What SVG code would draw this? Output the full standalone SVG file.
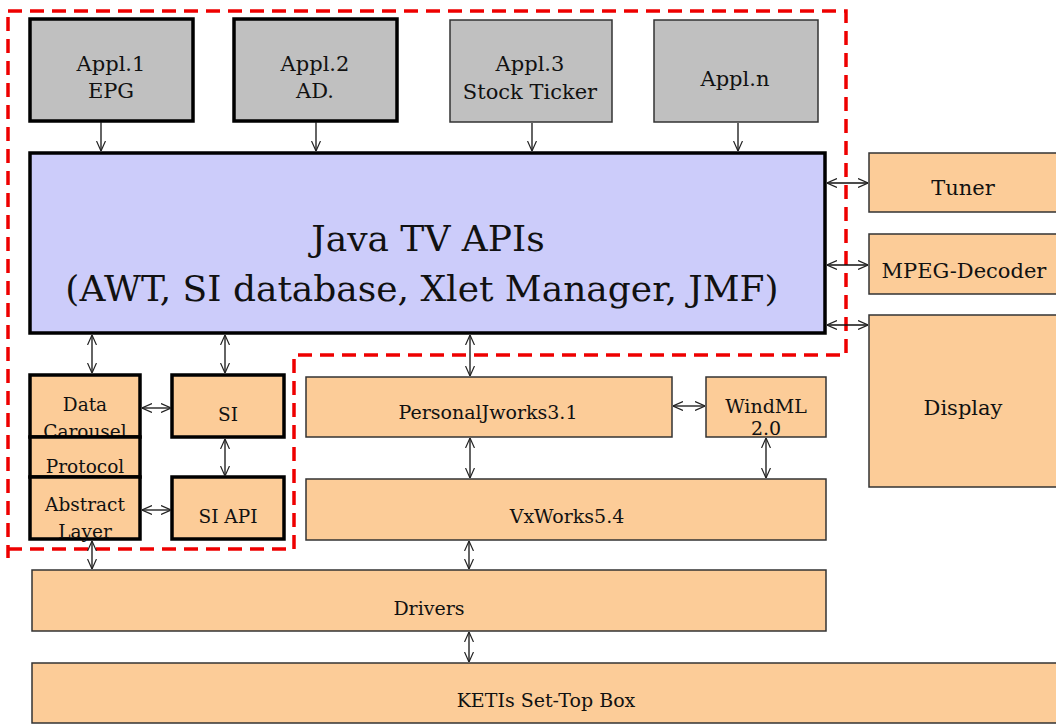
<svg xmlns="http://www.w3.org/2000/svg" width="1056" height="724" viewBox="0 0 1056 724">
<style>
text{font-family:"DejaVu Serif","Liberation Serif",serif;fill:#111;text-anchor:middle}
.gk{fill:#c0c0c0;stroke:#000;stroke-width:3.5}
.gt{fill:#c0c0c0;stroke:#333;stroke-width:1.5}
.ok{fill:#fccc98;stroke:#000;stroke-width:3.5}
.ot{fill:#fccc98;stroke:#333;stroke-width:1.5}
.s{font-size:21px}
.m{font-size:18.5px}
.n{font-size:19px}
.c line{stroke:#111;stroke-width:1.3;fill:none}
</style>
<defs>
<marker id="ah" viewBox="0 0 10 10" refX="10" refY="5" markerWidth="10" markerHeight="10" markerUnits="userSpaceOnUse" orient="auto-start-reverse">
<polyline points="0,0.5 10,5 0,9.5" fill="none" stroke="#222" stroke-width="1.2"/>
</marker>
</defs>
<rect width="1056" height="724" fill="#fff"/>
<polygon points="8,11 846,11 846,355 294,355 294,549 8,549 8,558" fill="none" stroke="#e00" stroke-width="3.5" stroke-dasharray="14,8"/>
<g id="appl1"><rect class="gk" x="30" y="19" width="163" height="102"/><text class="s" x="111" y="71">Appl.1</text><text class="s" x="111" y="98">EPG</text></g>
<g id="appl2"><rect class="gk" x="234" y="19" width="163" height="102"/><text class="s" x="315" y="71">Appl.2</text><text class="s" x="315" y="98">AD.</text></g>
<g id="appl3"><rect class="gt" x="450" y="20" width="162" height="102"/><text class="s" x="530" y="71">Appl.3</text><text class="s" x="530" y="99">Stock Ticker</text></g>
<g id="appln"><rect class="gt" x="654" y="20" width="164" height="102"/><text class="s" x="735" y="86">Appl.n</text></g>
<g id="javatv"><rect x="30" y="153" width="795" height="180" fill="#ccccfa" stroke="#000" stroke-width="3.5"/><text x="428" y="251" font-size="36">Java TV APIs</text><text x="422" y="301" font-size="36">(AWT, SI database, Xlet Manager, JMF)</text></g>
<g id="tuner"><rect class="ot" x="869" y="153" width="200" height="59"/><text class="s" x="963" y="195">Tuner</text></g>
<g id="mpeg"><rect class="ot" x="869" y="234" width="200" height="60"/><text class="s" x="964" y="278">MPEG-Decoder</text></g>
<g id="display"><rect class="ot" x="869" y="315" width="200" height="172"/><text class="s" x="963" y="415">Display</text></g>
<g id="datacarousel"><rect class="ok" x="30" y="375" width="110" height="62"/><text class="m" x="85" y="411">Data</text><text class="m" x="85" y="438">Carousel</text></g>
<g id="protocol"><rect class="ok" x="30" y="437" width="110" height="40"/><text class="m" x="85" y="473">Protocol</text></g>
<g id="abstract"><rect class="ok" x="30" y="477" width="110" height="62"/><text class="m" x="85" y="511">Abstract</text><text class="m" x="85" y="538">Layer</text></g>
<g id="si"><rect class="ok" x="172" y="375" width="112" height="62"/><text class="m" x="228" y="421">SI</text></g>
<g id="siapi"><rect class="ok" x="172" y="477" width="112" height="62"/><text class="m" x="228" y="523">SI API</text></g>
<g id="pjworks"><rect class="ot" x="306" y="377" width="366" height="60"/><text class="n" x="488" y="419">PersonalJworks3.1</text></g>
<g id="windml"><rect class="ot" x="706" y="377" width="120" height="60"/><text class="n" x="766" y="413">WindML</text><text class="n" x="766" y="435">2.0</text></g>
<g id="vxworks"><rect class="ot" x="306" y="479" width="520" height="61"/><text class="n" x="567" y="523">VxWorks5.4</text></g>
<g id="drivers"><rect class="ot" x="32" y="570" width="794" height="61"/><text class="n" x="429" y="615">Drivers</text></g>
<g id="keti"><rect class="ot" x="32" y="663" width="1030" height="60"/><text class="n" x="546" y="707">KETIs Set-Top Box</text></g>
<g class="c" id="connectors">
<line x1="101" y1="122" x2="101" y2="151" marker-end="url(#ah)"/>
<line x1="316" y1="122" x2="316" y2="151" marker-end="url(#ah)"/>
<line x1="532" y1="123" x2="532" y2="151" marker-end="url(#ah)"/>
<line x1="738" y1="123" x2="738" y2="151" marker-end="url(#ah)"/>
<line x1="827" y1="183" x2="868" y2="183" marker-start="url(#ah)" marker-end="url(#ah)"/>
<line x1="827" y1="265" x2="868" y2="265" marker-start="url(#ah)" marker-end="url(#ah)"/>
<line x1="827" y1="325" x2="868" y2="325" marker-start="url(#ah)" marker-end="url(#ah)"/>
<line x1="92" y1="335" x2="92" y2="373" marker-start="url(#ah)" marker-end="url(#ah)"/>
<line x1="225" y1="335" x2="225" y2="373" marker-start="url(#ah)" marker-end="url(#ah)"/>
<line x1="470" y1="335" x2="470" y2="376" marker-start="url(#ah)" marker-end="url(#ah)"/>
<line x1="142" y1="408" x2="171" y2="408" marker-start="url(#ah)" marker-end="url(#ah)"/>
<line x1="142" y1="510" x2="171" y2="510" marker-start="url(#ah)" marker-end="url(#ah)"/>
<line x1="225" y1="439" x2="225" y2="476" marker-start="url(#ah)" marker-end="url(#ah)"/>
<line x1="673" y1="406" x2="705" y2="406" marker-start="url(#ah)" marker-end="url(#ah)"/>
<line x1="470" y1="438" x2="470" y2="478" marker-start="url(#ah)" marker-end="url(#ah)"/>
<line x1="766" y1="438" x2="766" y2="478" marker-start="url(#ah)" marker-end="url(#ah)"/>
<line x1="92" y1="541" x2="92" y2="569" marker-start="url(#ah)" marker-end="url(#ah)"/>
<line x1="469" y1="541" x2="469" y2="569" marker-start="url(#ah)" marker-end="url(#ah)"/>
<line x1="469" y1="632" x2="469" y2="662" marker-start="url(#ah)" marker-end="url(#ah)"/>
</g>
</svg>
